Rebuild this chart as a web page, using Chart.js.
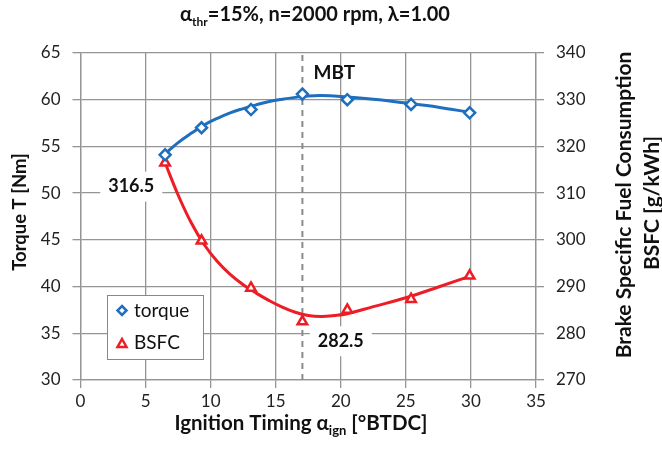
<!DOCTYPE html>
<html>
<head>
<meta charset="utf-8">
<script src="https://cdn.jsdelivr.net/npm/chart.js@4/dist/chart.umd.min.js"></script>
<style>
  html, body { margin: 0; padding: 0; background: #fff; }
  canvas { display: block; }
</style>
</head>
<body>
<canvas id="chart" width="662" height="453"></canvas>
<script>
// measured points: ignition timing [°BTDC]
const timing = [6.5, 9.3, 13.1, 17.05, 20.5, 25.4, 29.9];
// torque [Nm]
const torque = [54.1, 57.0, 58.95, 60.6, 60.0, 59.5, 58.6];
// brake specific fuel consumption [g/kWh]
const bsfc = [316.5, 299.8, 289.7, 282.5, 285.0, 287.3, 292.3];

// trend curves
const torqueTrendX = [6.5, 7.5, 8.5, 9.5, 10.5, 11.5, 12.5, 13.5, 14.5, 15.5, 16.5, 17.5, 18.5, 20, 22.5, 25, 27.5, 29.9];
const torqueTrendY = [54.2, 55.4, 56.4, 57.3, 58.0, 58.6, 59.05, 59.45, 59.8, 60.05, 60.25, 60.4, 60.45, 60.35, 60.05, 59.65, 59.2, 58.65];
const bsfcTrendX = [6.5, 7.5, 8.5, 9.5, 10.5, 11.5, 12.5, 13.5, 14.5, 15.5, 16.5, 17.5, 18.5, 19.5, 20.5, 22.5, 25, 27.5, 29.9];
const bsfcTrendY = [316.5, 309.6, 303.7, 299.0, 295.4, 292.6, 290.4, 288.6, 287.0, 285.6, 284.5, 283.8, 283.6, 283.8, 284.2, 285.7, 287.6, 289.9, 292.2];

const mbtTiming = 17.05;
const xTicks = [0, 5, 10, 15, 20, 25, 30, 35];
const torqueTicks = [30, 35, 40, 45, 50, 55, 60, 65];
const bsfcTicks = [270, 280, 290, 300, 310, 320, 330, 340];

const BLUE = '#1f6fbf';
const RED = '#ee1c25';
const GRID = '#959595';
const FONT = 'Lato, "Open Sans", sans-serif';

const pts = (xs, ys) => xs.map((x, i) => ({ x: x, y: ys[i] }));

// text with subscripts, parts = [[text, isSub], ...]
function drawRich(ctx, parts, x, y, size) {
    const big = 'bold ' + size + 'px ' + FONT;
    const small = 'bold ' + Math.round(size * 0.62) + 'px ' + FONT;
    let w = 0;
    parts.forEach(p => { ctx.font = p[1] ? small : big; w += ctx.measureText(p[0]).width; });
    let cx = x - w / 2;
    ctx.textAlign = 'left';
    ctx.textBaseline = 'alphabetic';
    parts.forEach(p => {
        ctx.font = p[1] ? small : big;
        ctx.fillText(p[0], cx, p[1] ? y + size * 0.25 : y);
        cx += ctx.measureText(p[0]).width;
    });
}

function boxedLabel(ctx, text, x, y) {
    ctx.font = 'bold 18px ' + FONT;
    const w = ctx.measureText(text).width;
    ctx.fillStyle = '#fff';
    ctx.fillRect(x - w / 2 - 8, y - 15, w + 16, 30);
    ctx.fillStyle = '#111';
    ctx.textAlign = 'center';
    ctx.textBaseline = 'middle';
    ctx.fillText(text, x, y);
}

const decorations = {
    id: 'decorations',
    beforeDatasetsDraw(chart) {
        const ctx = chart.ctx;
        const xs = chart.scales.x, y2 = chart.scales.y2;
        ctx.save();
        boxedLabel(ctx, bsfc[0].toFixed(1), xs.getPixelForValue(3.9), y2.getPixelForValue(311.4));
        boxedLabel(ctx, bsfc[3].toFixed(1), xs.getPixelForValue(20.0), y2.getPixelForValue(278.3));
        ctx.restore();
    },
    afterDatasetsDraw(chart) {
        const ctx = chart.ctx;
        const xs = chart.scales.x;
        ctx.save();
        // MBT label
        ctx.fillStyle = '#111';
        ctx.font = 'bold 19px ' + FONT;
        ctx.textAlign = 'center';
        ctx.textBaseline = 'middle';
        ctx.fillText('MBT', xs.getPixelForValue(mbtTiming) + 32, 73);

        // legend
        const lx = 107, ly = 295, lw = 96, lh = 64;
        ctx.fillStyle = '#fff';
        ctx.fillRect(lx, ly, lw, lh);
        ctx.strokeStyle = '#888';
        ctx.lineWidth = 1;
        ctx.strokeRect(lx + 0.5, ly + 0.5, lw, lh);
        // diamond
        ctx.lineWidth = 2.5;
        ctx.strokeStyle = BLUE;
        ctx.beginPath();
        ctx.moveTo(122, 306); ctx.lineTo(126.5, 310.5); ctx.lineTo(122, 315); ctx.lineTo(117.5, 310.5); ctx.closePath();
        ctx.stroke();
        // triangle
        ctx.strokeStyle = RED;
        ctx.beginPath();
        ctx.moveTo(122, 339); ctx.lineTo(126.5, 347); ctx.lineTo(117.5, 347); ctx.closePath();
        ctx.stroke();
        ctx.fillStyle = '#111';
        ctx.font = '19px ' + FONT;
        ctx.textAlign = 'left';
        ctx.fillText('torque', 134, 311);
        ctx.fillText('BSFC', 134, 343);

        // titles
        ctx.fillStyle = '#111';
        drawRich(ctx, [['\u03b1', false], ['thr', true], ['=15%, n=2000 rpm, \u03bb=1.00', false]], 315, 21, 20);
        drawRich(ctx, [['Ignition Timing \u03b1', false], ['ign', true], [' [\u00b0BTDC]', false]], 301, 430, 20.5);

        ctx.textAlign = 'center';
        ctx.textBaseline = 'middle';
        ctx.font = 'bold 18.5px ' + FONT;
        ctx.save();
        ctx.translate(20, 212);
        ctx.rotate(-Math.PI / 2);
        ctx.fillText('Torque T [Nm]', 0, 0);
        ctx.restore();
        ctx.font = 'bold 21px ' + FONT;
        ctx.save();
        ctx.translate(624, 205);
        ctx.rotate(-Math.PI / 2);
        ctx.fillText('Brake Specific Fuel Consumption', 0, 0);
        ctx.fillText('BSFC [g/kWh]', 2, 28);
        ctx.restore();
        ctx.restore();
    }
};

const tickFont = { family: FONT, size: 17 };

const markerStyle = (style, color) => ({
    showLine: false,
    pointStyle: style,
    pointRadius: 5.5,
    pointBorderWidth: 2.5,
    pointBackgroundColor: '#fff',
    pointBorderColor: color
});

new Chart(document.getElementById('chart'), {
    type: 'scatter',
    data: {
        datasets: [
            {
                label: 'MBT',
                data: [{ x: mbtTiming, y: torqueTicks[0] }, { x: mbtTiming, y: torqueTicks[torqueTicks.length - 1] }],
                yAxisID: 'y',
                showLine: true,
                borderColor: '#8a8a8a',
                borderWidth: 2,
                borderDash: [6, 5],
                pointRadius: 0,
                order: 5
            },
            {
                label: 'BSFC trend',
                data: pts(bsfcTrendX, bsfcTrendY),
                yAxisID: 'y2',
                showLine: true,
                tension: 0.4,
                borderColor: RED,
                borderWidth: 3,
                pointRadius: 0,
                order: 4
            },
            {
                label: 'torque trend',
                data: pts(torqueTrendX, torqueTrendY),
                yAxisID: 'y',
                showLine: true,
                tension: 0.4,
                borderColor: BLUE,
                borderWidth: 3,
                pointRadius: 0,
                order: 3
            },
            Object.assign({ label: 'BSFC', data: pts(timing, bsfc), yAxisID: 'y2', order: 2 }, markerStyle('triangle', RED)),
            Object.assign({ label: 'torque', data: pts(timing, torque), yAxisID: 'y', order: 1 }, markerStyle('rectRot', BLUE))
        ]
    },
    options: {
        responsive: false,
        animation: false,
        devicePixelRatio: 1,
        layout: { padding: { top: 53, left: 0, right: 0, bottom: 0 } },
        plugins: { legend: { display: false }, tooltip: { enabled: false } },
        scales: {
            x: {
                type: 'linear',
                min: xTicks[0],
                max: xTicks[xTicks.length - 1],
                afterBuildTicks: s => { s.ticks = xTicks.map(v => ({ value: v })); },
                ticks: { color: '#222', font: tickFont, padding: 3, maxRotation: 0 },
                grid: { color: GRID, lineWidth: 1.3, tickLength: 8 },
                border: { color: GRID, width: 1.3 },
                afterFit: s => { s.height = 73; }
            },
            y: {
                position: 'left',
                min: torqueTicks[0],
                max: torqueTicks[torqueTicks.length - 1],
                afterBuildTicks: s => { s.ticks = torqueTicks.map(v => ({ value: v })); },
                ticks: { color: '#222', font: tickFont, padding: 12 },
                grid: { color: GRID, lineWidth: 1.3, tickLength: 8 },
                border: { color: GRID, width: 1.3 },
                afterFit: s => { s.width = 80.5; }
            },
            y2: {
                position: 'right',
                min: bsfcTicks[0],
                max: bsfcTicks[bsfcTicks.length - 1],
                afterBuildTicks: s => { s.ticks = bsfcTicks.map(v => ({ value: v })); },
                ticks: { color: '#222', font: tickFont, padding: 12 },
                grid: { drawOnChartArea: false, color: GRID, lineWidth: 1.3, tickLength: 8 },
                border: { color: GRID, width: 1.3 },
                afterFit: s => { s.width = 126; }
            }
        }
    },
    plugins: [decorations]
});
</script>
</body>
</html>
